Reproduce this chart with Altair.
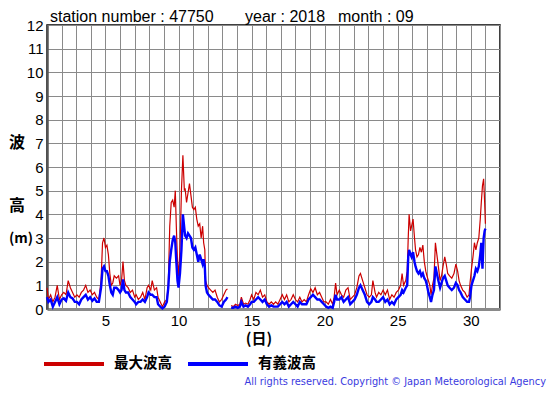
import altair as alt
import pandas as pd

# ---- data ----
days = [
    1.0, 1.1, 1.25, 1.4, 1.55, 1.7, 1.85,
    2.0, 2.15, 2.3, 2.45, 2.6, 2.75, 2.9,
    3.05, 3.2, 3.35, 3.5, 3.65, 3.8, 3.95,
    4.1, 4.25, 4.4, 4.55, 4.7, 4.8, 4.9,
    5.0, 5.1, 5.2, 5.3, 5.4, 5.5, 5.6, 5.75, 5.9,
    6.0, 6.1, 6.2, 6.3, 6.4, 6.55, 6.7, 6.85,
    7.0, 7.1, 7.25, 7.4, 7.55, 7.7, 7.85, 7.95,
    8.1, 8.2, 8.35, 8.5, 8.6, 8.75, 8.9,
    9.05, 9.2, 9.3, 9.4, 9.5, 9.6, 9.7, 9.78, 9.85, 9.93,
    10.0, 10.1, 10.2, 10.3, 10.4, 10.45, 10.55, 10.65, 10.75, 10.85, 10.95,
    11.05, 11.15, 11.25, 11.35, 11.45, 11.55, 11.65, 11.72, 11.8, 11.85, 11.95,
    12.05, 12.2, 12.35, 12.5, 12.65, 12.8, 12.95,
    13.1, 13.25, 13.35, 13.45, 13.6, 13.75, 13.9,
    14.05, 14.2, 14.3, 14.45, 14.6, 14.75, 14.9,
    15.0, 15.15, 15.3, 15.45, 15.6, 15.75, 15.9,
    16.05, 16.2, 16.35, 16.5, 16.65, 16.8, 16.95,
    17.1, 17.25, 17.4, 17.55, 17.7, 17.85,
    18.0, 18.15, 18.3, 18.45, 18.6, 18.75, 18.9,
    19.05, 19.2, 19.35, 19.5, 19.65, 19.8, 19.95,
    20.1, 20.25, 20.4, 20.55, 20.65, 20.75, 20.85,
    21.0, 21.15, 21.3, 21.45, 21.6, 21.75, 21.9,
    22.05, 22.2, 22.35, 22.45, 22.6, 22.75, 22.9,
    23.05, 23.2, 23.3, 23.45, 23.55, 23.7, 23.85,
    24.0, 24.15, 24.3, 24.45, 24.6, 24.75, 24.9,
    25.05, 25.2, 25.3, 25.4, 25.55, 25.65, 25.72, 25.78, 25.88, 25.95,
    26.05, 26.15, 26.22, 26.32, 26.42, 26.52, 26.62, 26.72, 26.82, 26.92,
    27.0, 27.1, 27.2, 27.28, 27.38, 27.48, 27.58, 27.68, 27.78, 27.9,
    28.0, 28.1, 28.22, 28.32, 28.42, 28.55, 28.7, 28.85, 28.98,
    29.1, 29.2, 29.3, 29.45, 29.6, 29.75, 29.88, 29.95,
    30.05, 30.15, 30.25, 30.35, 30.45, 30.55, 30.65, 30.72, 30.8, 30.88, 30.95, 31.0,
]
max_wave = [
    0.9, 0.4, 0.6, 0.3, 0.5, 1.0, 0.4,
    0.6, 0.7, 0.6, 1.2, 0.9, 0.7, 0.5,
    0.6, 0.5, 0.7, 0.8, 1.0, 0.7, 0.8,
    0.6, 0.7, 0.5, 0.4, 1.2, 2.8, 3.0,
    2.6, 2.7, 2.3, 1.5, 1.0, 1.1, 1.4, 1.3, 1.4,
    1.0, 1.2, 2.0, 1.2, 1.0, 0.9, 0.7, 0.8,
    0.5, 0.6, 0.4, 0.5, 0.7, 0.4, 0.9, 1.0,
    0.8, 1.2, 0.8, 0.9, 0.5, 0.3, 0.1,
    0.3, 0.4, 1.0, 3.5, 4.5, 4.6, 4.3, 5.0, 3.5, 2.0,
    1.4, 2.5, 5.0, 6.5, 5.0, 5.1, 4.5, 4.9, 5.3, 4.8, 4.3,
    4.2, 4.3, 3.8, 3.5, 3.6, 3.0, 3.5, 2.8, 2.5, 1.2, 1.0,
    0.9, 0.8, 0.7, 0.8, 0.5, 0.3, 0.4,
    0.6, 0.8, 0.85, None, 0.15, 0.1, 0.2,
    0.15, 0.2, 0.5, 0.2, 0.25, 0.2, 0.4,
    0.6, 0.4, 0.7, 0.6, 0.8, 0.5, 0.6,
    0.3, 0.2, 0.3, 0.2, 0.3, 0.2, 0.4,
    0.6, 0.4, 0.6, 0.3, 0.4, 0.6,
    0.4, 0.3, 0.5, 0.3, 0.4, 0.3, 0.6,
    0.85, 0.7, 0.9, 0.6, 0.7, 0.5, 0.3,
    0.3, 0.2, 0.4, 0.2, 0.5, 1.1, 0.6,
    0.8, 0.6, 0.5, 0.8, 0.9, 0.4, 0.5,
    0.6, 0.9, 1.4, 1.5, 1.2, 0.9, 0.6,
    0.5, 0.6, 1.2, 0.7, 0.5, 0.7, 0.6,
    0.8, 0.6, 0.8, 0.4, 0.6, 0.5, 0.7,
    0.8, 1.0, 1.5, 1.0, 1.2, 1.6, 3.0, 4.0, 3.3, 3.5,
    3.8, 3.0, 2.5, 2.2, 2.3, 2.6, 2.4, 2.7, 2.0, 1.6,
    1.4, 1.2, 1.0, 0.6, 1.0, 1.3, 2.8, 2.3, 1.8, 1.2,
    1.4, 1.8, 2.2, 1.9, 1.5, 1.4, 1.3, 1.5, 1.9,
    1.6, 1.2, 1.0, 0.8, 0.7, 0.5, 0.6, 1.1,
    1.7, 2.2, 2.8, 2.5, 2.8, 3.0, 3.8, 4.5, 5.2, 5.5, 4.5, 3.6,
]
sig_wave = [
    0.5, 0.3, 0.4, 0.1, 0.3, 0.5, 0.2,
    0.4, 0.45, 0.35, 0.7, 0.5, 0.45, 0.3,
    0.3, 0.2, 0.4, 0.5, 0.6, 0.4, 0.5,
    0.35, 0.45, 0.3, 0.3, 0.9, 1.7, 1.8,
    1.6, 1.6, 1.4, 1.0, 0.7, 0.6, 0.9, 0.9, 0.8,
    0.7, 0.8, 1.25, 0.8, 0.7, 0.7, 0.5, 0.4,
    0.3, 0.2, 0.3, 0.3, 0.4, 0.3, 0.5, 0.7,
    0.6, 0.6, 0.5, 0.5, 0.2, 0.1, 0.02,
    0.1, 0.3, 0.9, 2.0, 2.5, 2.9, 3.1, 2.8, 2.0, 1.2,
    0.9, 1.5, 2.5, 4.0, 3.4, 3.1, 3.0, 3.2, 3.1, 3.0, 2.6,
    2.5, 2.6, 2.3, 2.0, 2.3, 2.1, 1.9, 2.1, 1.8, 1.0, 0.7,
    0.6, 0.5, 0.4, 0.4, 0.3, 0.15, 0.1,
    0.3, 0.4, 0.5, None, 0.05, 0.05, 0.1,
    0.05, 0.1, 0.3, 0.1, 0.15, 0.1, 0.2,
    0.3, 0.3, 0.4, 0.5, 0.4, 0.3, 0.4,
    0.2, 0.1, 0.15, 0.1, 0.1, 0.1, 0.2,
    0.3, 0.2, 0.3, 0.1, 0.2, 0.3,
    0.2, 0.1, 0.3, 0.2, 0.2, 0.2, 0.4,
    0.5, 0.6, 0.5, 0.4, 0.4, 0.3, 0.2,
    0.1, 0.05, 0.1, 0.05, 0.3, 0.6, 0.4,
    0.4, 0.5, 0.3, 0.4, 0.5, 0.2, 0.3,
    0.4, 0.6, 0.9, 1.0, 0.8, 0.6, 0.3,
    0.2, 0.3, 0.5, 0.4, 0.3, 0.3, 0.4,
    0.5, 0.3, 0.4, 0.2, 0.3, 0.2, 0.4,
    0.5, 0.6, 0.8, 0.7, 0.9, 1.0, 2.2, 2.5, 2.3, 2.2,
    2.4, 2.0, 1.8, 1.6, 1.5, 1.6, 1.4, 1.5, 1.3, 1.2,
    1.0, 0.7, 0.5, 0.3, 0.6, 0.8, 1.8, 1.5, 1.2, 0.9,
    1.1, 1.3, 1.4, 1.2, 1.0, 0.9, 0.8, 0.9, 1.1,
    1.0, 0.8, 0.7, 0.5, 0.4, 0.3, 0.3, 0.5,
    1.0, 1.2, 1.4, 1.7, 1.6, 1.8, 2.3, 2.8, 1.7, 3.0, 3.3, 3.4,
]
series_names = ["最大波高", "有義波高"]
series_colors = ["#CC0000", "#0000FF"]
x_ticks = list(range(1, 33))
y_ticks = list(range(0, 13))

assert len(days) == len(max_wave) == len(sig_wave)


def build(values, name):
    rows, seg = [], 0
    for d, v in zip(days, values):
        if v is None:
            seg += 1
            continue
        rows.append({"day": d, "height": v, "series": name, "seg": seg})
    return pd.DataFrame(rows)


df_max = build(max_wave, series_names[0])
df_sig = build(sig_wave, series_names[1])

FONT = "Liberation Sans"
JFONT = "Noto Sans CJK JP"

x_enc = alt.X(
    "day:Q",
    scale=alt.Scale(domain=[1, 32], nice=False, zero=False),
    axis=alt.Axis(
        values=x_ticks,
        labelExpr="datum.value % 5 == 0 ? datum.label : ''",
        title=None, grid=True, ticks=False,
        labelOverlap=False, labelFlush=False,
    ),
)
y_enc = alt.Y(
    "height:Q",
    scale=alt.Scale(domain=[0, 12], nice=False),
    axis=alt.Axis(values=y_ticks, title=None, grid=True, ticks=False),
)
color_enc = alt.Color(
    "series:N",
    scale=alt.Scale(domain=series_names, range=series_colors),
    legend=alt.Legend(
        title=None, orient="none", direction="horizontal",
        legendX=-5, legendY=307,
        symbolType="stroke", symbolSize=3600, symbolStrokeWidth=4,
        labelFont=JFONT, labelFontWeight="bold", labelFontSize=14.5,
        labelColor="black", labelOffset=8, columnPadding=8,
    ),
)

red = alt.Chart(df_max).mark_line(strokeWidth=1.2).encode(
    x=x_enc, y=y_enc, color=color_enc, detail="seg:N"
)
blue = alt.Chart(df_sig).mark_line(strokeWidth=2.4).encode(
    x=x_enc, y=y_enc, color=color_enc, detail="seg:N"
)


def label(text, x, y, size, font=FONT, weight="normal", align="left",
          baseline="alphabetic", color="black"):
    return alt.Chart(pd.DataFrame({"t": [text]})).mark_text(
        font=font, fontSize=size, fontWeight=weight, align=align,
        baseline=baseline, color=color,
    ).encode(x=alt.value(x), y=alt.value(y), text="t:N")


texts = [
    label("station number : 47750", 3, -3, 16),
    label("year : 2018", 198, -3, 16),
    label("month : 09", 291, -3, 16),
    label("波", -30, 118, 16, font=JFONT, weight="bold", align="center", baseline="middle"),
    label("高", -30, 181, 16, font=JFONT, weight="bold", align="center", baseline="middle"),
    label("(m)", -26, 214, 14, font=JFONT, weight="bold", align="center", baseline="middle"),
    label("(日)", 212, 314, 15, font=JFONT, weight="bold", align="center", baseline="middle"),
    label("All rights reserved. Copyright © Japan Meteorological Agency", 499, 360, 9.8,
          font="DejaVu Sans", color="#3a3ae0", align="right", baseline="alphabetic"),
]

chart = alt.layer(red, blue, *texts).properties(
    width=453, height=284,
    autosize=alt.AutoSizeParams(type="none"),
    padding={"left": 39, "top": 17, "right": 47, "bottom": 78},
).configure_view(
    stroke="black", strokeWidth=1.5
).configure_axis(
    labelFont=FONT, labelFontSize=15, labelColor="black", labelPadding=4,
    gridColor="#8a8a8a", gridWidth=1, gridOpacity=1,
).configure_axisX(
    domainColor="#8a8a8a", domainWidth=3,
).configure_axisY(
    domainColor="#555555", domainWidth=2.5,
)

chart.save("out.html", embed_options={"renderer": "svg", "actions": False})
